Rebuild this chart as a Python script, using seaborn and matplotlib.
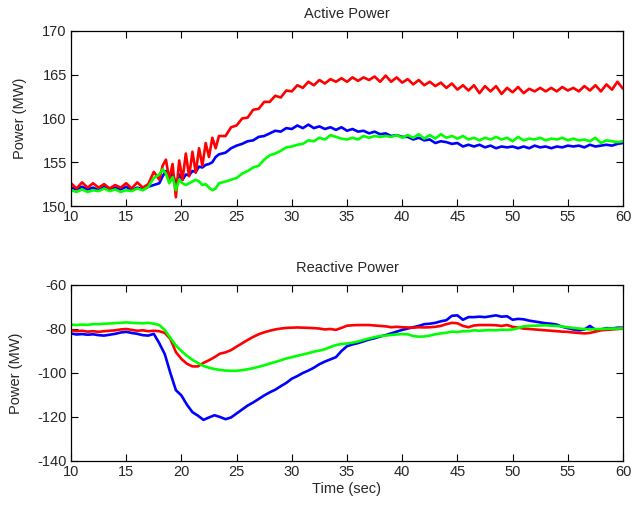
import numpy as np
import pandas as pd
import matplotlib
matplotlib.use("Agg")
import matplotlib.pyplot as plt
import seaborn as sns

# ---------------- data ----------------
# Active power: time grid (coarse / fine around the disturbance / coarse)
t_active = np.concatenate([np.arange(10.0, 17.75, 0.5),
                           np.round(np.arange(18.0, 23.45, 0.3), 2),
                           np.arange(24.0, 60.25, 0.5)])

active_red = [
    152.6, 152.0, 152.7, 152.1, 152.6, 152.1, 152.5, 152.0, 152.4, 152.1, 152.6, 152.0, 152.7, 152.1, 152.5, 153.9,
    153.0, 154.6, 155.3, 153.0, 154.8, 151.0, 155.2, 153.0, 156.0, 153.4, 156.2, 153.8, 156.6, 154.6, 157.2, 155.6, 157.8, 156.6, 158.0,
    158.0, 159.0, 159.2, 160.0, 160.1, 161.0, 161.1, 161.9, 161.9, 162.6, 162.4, 163.2, 163.1, 163.8, 163.5, 164.2, 163.8, 164.4,
    164.0, 164.5, 164.2, 164.6, 164.2, 164.7, 164.3, 164.7, 164.4, 164.8, 164.2, 164.9, 164.2, 164.7, 164.1, 164.5, 163.9, 164.4,
    163.8, 164.2, 163.7, 164.1, 163.5, 164.0, 163.3, 163.8, 163.2, 163.8, 162.9, 163.7, 163.1, 163.7, 162.8, 163.5, 163.0, 163.6,
    162.9, 163.4, 163.1, 163.5, 163.1, 163.5, 163.1, 163.6, 163.2, 163.5, 163.1, 163.7, 163.2, 163.8, 163.1, 163.9, 163.3, 164.2, 163.4,
]
active_blue = [
    152.1, 151.9, 152.2, 151.9, 152.1, 151.8, 152.2, 151.9, 152.1, 151.9, 152.2, 151.8, 152.1, 151.9, 152.2, 152.4,
    152.6, 153.4, 154.0, 153.0, 153.8, 152.4, 153.6, 153.0, 153.6, 153.5, 154.0, 153.9, 154.5, 154.4, 154.7, 154.8, 155.0, 155.6, 155.9,
    156.1, 156.6, 156.9, 157.1, 157.4, 157.5, 157.9, 158.0, 158.3, 158.6, 158.5, 158.9, 158.8, 159.2, 158.9, 159.3, 158.9, 159.1,
    158.8, 159.0, 158.7, 159.0, 158.6, 158.8, 158.5, 158.6, 158.3, 158.5, 158.2, 158.3, 158.0, 158.1, 157.9, 157.9, 157.6, 157.8,
    157.5, 157.6, 157.2, 157.4, 157.3, 157.1, 157.2, 156.8, 157.0, 156.8, 157.0, 156.7, 156.9, 156.6, 156.8, 156.7, 156.8, 156.6,
    156.8, 156.6, 156.9, 156.7, 156.8, 156.6, 156.8, 156.7, 156.9, 156.8, 156.9, 156.7, 157.0, 156.8, 156.9, 157.0, 156.9, 157.1, 157.2,
]
active_green = [
    151.8, 151.6, 151.9, 151.6, 151.8, 151.7, 152.0, 151.7, 151.9, 151.6, 151.8, 151.7, 152.0, 151.8, 152.2, 153.2,
    153.6, 154.2, 153.7, 152.6, 153.3, 151.8, 153.0, 152.6, 152.4, 152.6, 152.8, 153.0, 152.8, 152.4, 152.5, 152.1, 151.8, 152.0, 152.6,
    152.8, 153.0, 153.2, 153.7, 154.0, 154.4, 154.6, 155.3, 155.8, 156.0, 156.3, 156.7, 156.8, 157.0, 157.1, 157.5, 157.4, 157.8,
    157.6, 158.1, 157.9, 157.7, 157.6, 157.8, 157.6, 158.0, 157.8, 158.0, 157.9, 158.0, 157.9, 158.1, 157.8, 158.1, 157.8, 158.2,
    157.7, 158.1, 157.7, 158.2, 157.8, 158.0, 157.7, 158.0, 157.6, 157.8, 157.5, 157.8, 157.6, 157.9, 157.6, 157.8, 157.4, 157.9,
    157.5, 157.7, 157.6, 157.8, 157.5, 157.7, 157.6, 157.8, 157.5, 157.7, 157.5, 157.6, 157.4, 157.8, 157.2, 157.5, 157.4, 157.3, 157.4,
]

# Reactive power: 0.5 s grid
t_reactive = np.arange(10.0, 60.25, 0.5)

reactive_red = [
    -80.5, -81.0, -80.8, -81.2, -81.0, -81.3, -81.0, -80.8, -80.6, -80.2, -80.0, -80.4, -80.8, -80.6, -81.0, -80.8,
    -81.0, -81.8, -84.5, -90.5, -93.6, -95.8, -97.0, -97.0, -95.4, -94.2, -92.8, -91.2, -90.6, -89.6, -88.0, -86.5,
    -85.0, -83.6, -82.4, -81.5, -80.8, -80.2, -79.8, -79.5, -79.4, -79.3, -79.4, -79.5, -79.6, -79.8, -80.2, -80.0,
    -80.4, -79.5, -78.5, -78.3, -78.2, -78.2, -78.2, -78.4, -78.6, -78.8, -79.2, -79.0, -79.2, -79.3, -79.4, -79.2,
    -79.3, -79.2, -79.0, -78.6, -77.8, -77.2, -77.4, -78.6, -79.2, -78.4, -78.2, -78.2, -78.2, -78.3, -78.6, -78.2,
    -79.0, -79.4, -79.8, -80.0, -80.2, -80.4, -80.6, -80.8, -81.0, -81.2, -81.3, -81.6, -81.8, -82.0, -81.8, -81.2,
    -80.6, -80.4, -80.2, -80.0, -79.8,
]
reactive_blue = [
    -82.0, -82.5, -82.3, -82.6, -82.4, -82.8, -83.0, -82.6, -82.2, -81.6, -81.3, -81.8, -82.2, -82.8, -83.0, -82.2,
    -86.5, -91.5, -100.0, -107.8, -110.2, -114.4, -117.8, -119.4, -121.3, -120.2, -119.2, -120.0, -121.0, -120.2, -118.4, -116.6,
    -114.8, -113.4, -111.8, -110.2, -108.8, -107.6, -106.0, -104.5, -102.6, -101.4, -100.0, -98.9, -97.6, -96.0, -94.8, -93.8,
    -92.8, -90.0, -87.8, -87.0, -86.4, -85.6, -84.8, -84.2, -83.4, -82.8, -82.0, -81.2, -80.4, -79.8, -79.2, -78.6,
    -77.8, -77.6, -77.2, -76.5, -76.0, -74.0, -73.8, -75.8, -74.6, -74.6, -74.4, -74.6, -74.2, -73.8, -74.4, -74.2,
    -75.8, -75.4, -75.6, -76.2, -76.6, -77.0, -77.4, -77.6, -78.0, -79.0, -79.6, -80.2, -80.6, -80.2, -78.6, -80.4,
    -80.2, -79.6, -79.8, -79.4, -79.4,
]
reactive_green = [
    -78.0, -78.2, -78.0, -78.1, -77.8, -77.8, -77.6, -77.5, -77.3, -77.2, -77.0, -77.2, -77.3, -77.4, -77.2, -77.6,
    -78.2, -80.5, -84.0, -87.5, -90.0, -92.2, -94.0, -95.5, -96.8, -97.6, -98.2, -98.6, -98.9, -99.0, -99.0, -98.7,
    -98.3, -97.8, -97.2, -96.5, -95.7, -95.0, -94.2, -93.4, -92.8, -92.2, -91.6, -91.0, -90.3, -89.8, -89.2, -88.2,
    -87.3, -86.8, -86.6, -86.2, -85.7, -85.0, -84.3, -83.7, -83.2, -83.0, -82.7, -82.5, -82.3, -82.4, -83.2, -83.5,
    -83.4, -83.0, -82.4, -82.0, -81.7, -81.2, -81.4, -81.0, -81.0, -80.6, -80.8, -80.6, -80.5, -80.6, -80.3, -80.4,
    -80.2, -79.6, -78.8, -78.6, -78.5, -78.4, -78.3, -78.5, -78.6, -78.9, -79.2, -79.5, -79.8, -80.0, -80.2, -80.0,
    -80.0, -79.9, -79.8, -79.8, -79.7,
]

x_ticks = [10, 15, 20, 25, 30, 35, 40, 45, 50, 55, 60]
active_yticks = [150, 155, 160, 165, 170]
reactive_yticks = [-140, -120, -100, -80, -60]

# ---------------- style ----------------
sns.set_style("white")
plt.rcParams["font.family"] = ["Liberation Sans", "DejaVu Sans"]
plt.rcParams["axes.unicode_minus"] = False
plt.rcParams["xtick.direction"] = "in"
plt.rcParams["ytick.direction"] = "in"

W, H = 632, 508
fig = plt.figure(figsize=(W / 100, H / 100), dpi=100)
fig.patch.set_facecolor("white")


def axes_px(l, t, r, b):
    return fig.add_axes([l / W, 1 - b / H, (r - l) / W, (b - t) / H])


ax1 = axes_px(71, 31, 623, 206)
ax2 = axes_px(71, 285, 623, 461)

lw = 1.9
for ax, t, series in [
    (ax1, t_active, [("blue", active_blue), ("red", active_red), ("lime", active_green)]),
    (ax2, t_reactive, [("blue", reactive_blue), ("red", reactive_red), ("lime", reactive_green)]),
]:
    for color, vals in series:
        df = pd.DataFrame({"t": t, "v": vals})
        sns.lineplot(data=df, x="t", y="v", ax=ax, color=color, linewidth=lw,
                     estimator=None, sort=False)

for ax, yt, title, ylx in [(ax1, active_yticks, "Active Power", -0.080),
                           (ax2, reactive_yticks, "Reactive Power", -0.087)]:
    ax.set_xlim(10, 60)
    ax.set_ylim(yt[0], yt[-1])
    ax.set_xticks(x_ticks)
    ax.set_yticks(yt)
    ax.set_title(title, fontsize=10.5, pad=9)
    ax.set_ylabel("Power (MW)", fontsize=10.5)
    ax.yaxis.set_label_coords(ylx, 0.5)
    ax.set_xlabel("")
    ax.tick_params(axis="both", which="both", labelsize=10.5, length=5, width=0.8,
                   color="black", top=True, right=True, bottom=True, left=True, pad=3)
    for s in ax.spines.values():
        s.set_visible(True)
        s.set_color("black")
        s.set_linewidth(0.9)
    ax.grid(False)

ax2.set_xlabel("Time (sec)", fontsize=10.5, labelpad=2)

fig.savefig("out.png", dpi=100, facecolor="white")
